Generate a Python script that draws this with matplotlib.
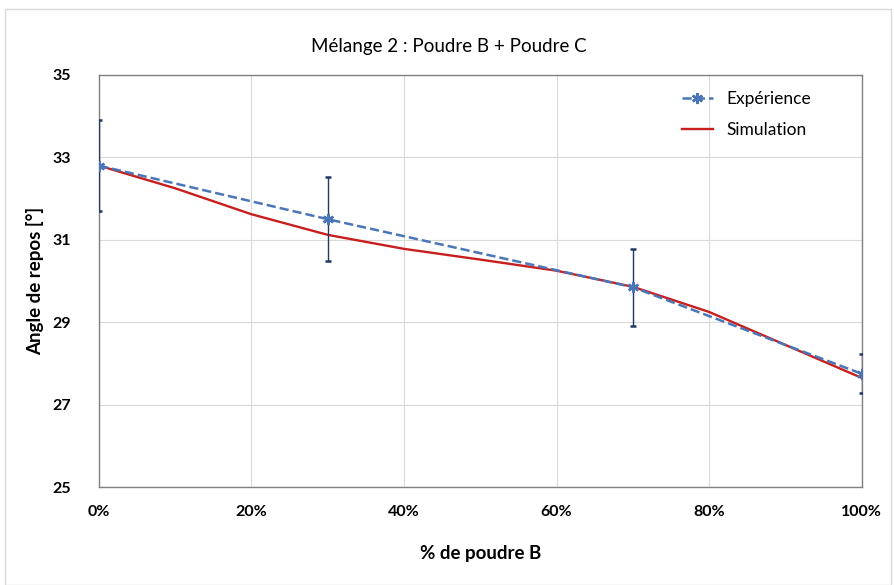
import matplotlib.pyplot as plt
from matplotlib.patches import Rectangle
from matplotlib.lines import Line2D
from matplotlib.ticker import FuncFormatter

# données
exp_x = [0, 30, 70, 100]
exp_y = [32.8, 31.5, 29.85, 27.75]
exp_err = [1.1, 1.02, 0.93, 0.48]

sim_x = [0, 10, 20, 30, 40, 50, 60, 70, 80, 90, 100]
sim_y = [32.8, 32.25, 31.62, 31.12, 30.78, 30.52, 30.25, 29.86, 29.25, 28.45, 27.65]

plt.rcParams['font.family'] = ['Lato', 'DejaVu Sans']

blue = '#4a76b8'
red = '#c81e1e'

fig = plt.figure(figsize=(8.95, 5.85), dpi=100)
fig.patches.append(Rectangle((0.006, 0.0), 0.99, 0.985, transform=fig.transFigure,
                             fill=False, edgecolor='#d9d9d9', linewidth=1))
ax = fig.add_axes([0.1106, 0.1675, 0.852, 0.7043])

ax.plot(sim_x, sim_y, color=red, linewidth=1.7, zorder=3)
ax.errorbar(exp_x, exp_y, yerr=exp_err, color=blue, linestyle='--', linewidth=1.8,
            marker=(6, 2, 0), markersize=8, markeredgewidth=1.8,
            ecolor='#1f3864', elinewidth=1, capsize=2, zorder=4)

ax.set_xlim(0, 100)
ax.set_ylim(25, 35)
ax.set_xticks([0, 20, 40, 60, 80, 100])
ax.set_yticks([25, 27, 29, 31, 33, 35])
ax.xaxis.set_major_formatter(FuncFormatter(lambda v, p: '%d%%' % v))
ax.grid(True, color='#d9d9d9', linewidth=0.8)
ax.set_axisbelow(True)
ax.tick_params(axis='x', length=0, labelsize=11.5, pad=13)
ax.tick_params(axis='y', length=0, labelsize=11.5, pad=20)
for lab in ax.get_xticklabels() + ax.get_yticklabels():
    lab.set_fontweight('bold')
for s in ax.spines.values():
    s.set_color('#808080')
    s.set_linewidth(1)

ax.set_xlabel('% de poudre B', fontsize=13.5, fontweight='bold', labelpad=19)
ax.set_ylabel('Angle de repos [°]', fontsize=13.5, fontweight='bold', labelpad=6)
fig.text(0.502, 0.921, 'Mélange 2 : Poudre B + Poudre C', fontsize=13.5, ha='center', va='center')

handles = [Line2D([], [], color=blue, linestyle='--', linewidth=1.8, marker=(6, 2, 0),
                  markersize=8, markeredgewidth=1.8),
           Line2D([], [], color=red, linewidth=1.7)]
ax.legend(handles, ['Expérience', 'Simulation'], loc='upper right', frameon=False,
          fontsize=12.5, handlelength=1.8, borderaxespad=0.5, labelspacing=0.9,
          bbox_to_anchor=(0.955, 1.0))

fig.savefig('out.png', dpi=100)
